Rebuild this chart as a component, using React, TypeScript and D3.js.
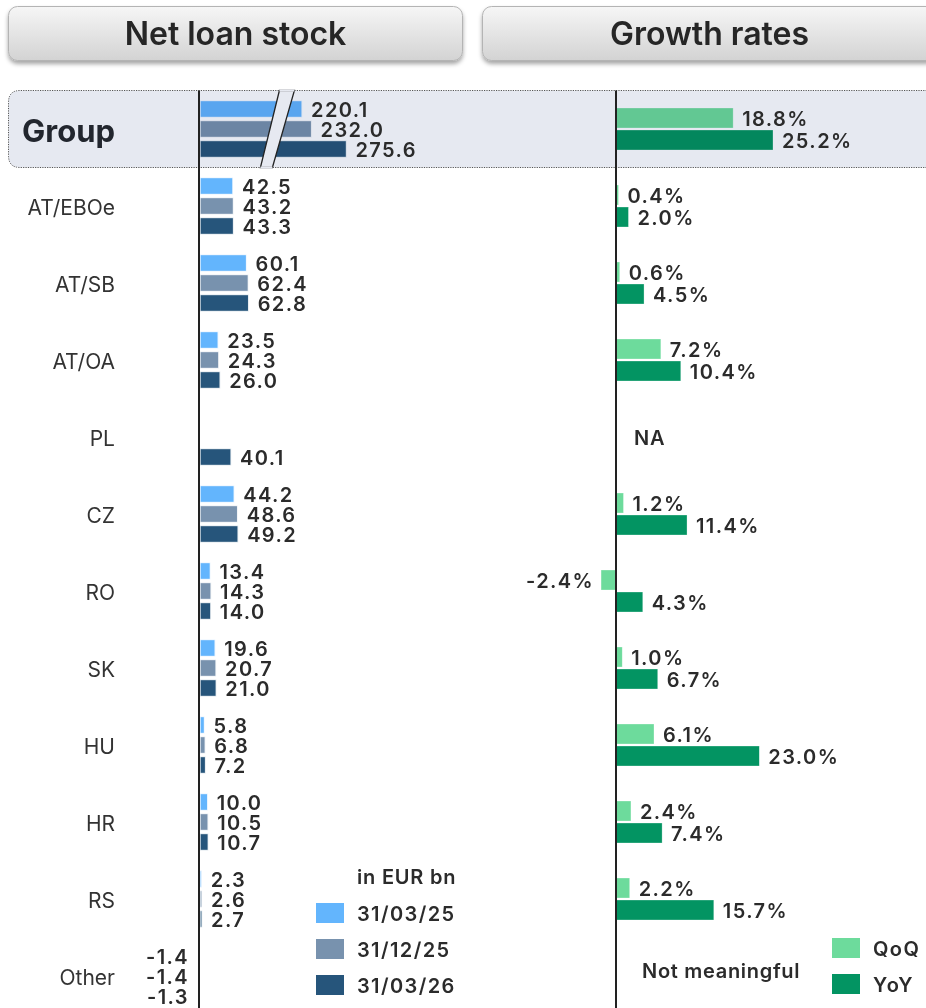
import React from 'react';
import * as d3 from 'd3';

const categories = ['Group', 'AT/EBOe', 'AT/SB', 'AT/OA', 'PL', 'CZ', 'RO', 'SK', 'HU', 'HR', 'RS', 'Other'];

// net loan stock, EUR bn
const stockMar25 = [220.1, 42.5, 60.1, 23.5, null, 44.2, 13.4, 19.6, 5.8, 10.0, 2.3, -1.4];
const stockDec25 = [232.0, 43.2, 62.4, 24.3, null, 48.6, 14.3, 20.7, 6.8, 10.5, 2.6, -1.4];
const stockMar26 = [275.6, 43.3, 62.8, 26.0, 40.1, 49.2, 14.0, 21.0, 7.2, 10.7, 2.7, -1.3];

// growth rates, %
const growthQoQ = [18.8, 0.4, 0.6, 7.2, null, 1.2, -2.4, 1.0, 6.1, 2.4, 2.2, null];
const growthYoY = [25.2, 2.0, 4.5, 10.4, null, 11.4, 4.3, 6.7, 23.0, 7.4, 15.7, null];
const growthNotes = ['', '', '', '', 'NA', '', '', '', '', '', '', 'Not meaningful'];

const stockLabels = ['31/03/25', '31/12/25', '31/03/26'];
const growthLabels = ['QoQ', 'YoY'];
const unitLabel = 'in EUR bn';

const W = 926;
const H = 1008;
const FONT = 'Inter, "Noto Sans", sans-serif';
const TXT = '#2b2b2b';

const stockColors = ['#63b5fd', '#7892ae', '#26557b'];
const growthColors = ['#6ddb9c', '#039462'];

export default function App() {
  const stockSeries = [stockMar25, stockDec25, stockMar26];
  const growthSeries = [growthQoQ, growthYoY];

  const y = d3.scaleBand<string>().domain(categories).range([90.5, 90.5 + 77 * categories.length]);
  const ySub = d3.scalePoint<string>().domain(stockLabels).range([-20, 20]);
  const yGrowth = d3.scalePoint<string>().domain(growthLabels).range([-11, 11]);

  const axisL = 200;
  const axisR = 616;
  const xStock = d3.scaleLinear().domain([0, 60]).range([axisL, axisL + 46.5]);
  // broken axis for Group
  const xGroup = d3.scaleLinear().domain([92.5, 275.6]).range([axisL, axisL + 146.5]);
  const xGrowth = d3.scaleLinear().domain([0, 25.2]).range([axisR, axisR + 157]);

  const fmt = (v: number) => d3.format('.1f')(v).replace('\u2212', '-');
  const cy = (c: string) => (y(c) as number) + y.bandwidth() / 2;

  const bandTop = y('Group') as number;
  const bandBot = bandTop + y.bandwidth();
  const brk = xGroup(188);

  const valueText = {
    fontFamily: FONT,
    fontSize: 20,
    fontWeight: 600,
    fill: TXT,
    letterSpacing: '1.4px',
  } as const;

  const buttons = [
    { label: 'Net loan stock', x: 8.5 },
    { label: 'Growth rates', x: 482.5 },
  ];

  return (
    <svg width={W} height={H} style={{ position: 'absolute', left: 0, top: 0, display: 'block', background: '#fff' }}>
      <defs>
        <linearGradient id="btn" x1="0" y1="0" x2="0" y2="1">
          <stop offset="0" stopColor="#f6f6f6" />
          <stop offset="1" stopColor="#d3d3d3" />
        </linearGradient>
        <filter id="shadow" x="-5%" y="-20%" width="110%" height="160%">
          <feDropShadow dx="0" dy="3" stdDeviation="2.2" floodColor="#000" floodOpacity="0.35" />
        </filter>
      </defs>

      {buttons.map((b) => (
        <g key={b.label}>
          <rect x={b.x} y={6.5} width={454} height={54} rx={9} fill="url(#btn)" stroke="#b4b4b4" filter="url(#shadow)" />
          <text x={b.x + 227} y={33} textAnchor="middle" dominantBaseline="central"
            style={{ fontFamily: FONT, fontSize: 32, fontWeight: 600, fill: '#262626' }}>{b.label}</text>
        </g>
      ))}

      {/* group highlight band */}
      <path
        d={`M${W + 20},${bandTop} H20 Q8.5,${bandTop} 8.5,${bandTop + 12} V${bandBot - 12} Q8.5,${bandBot} 20,${bandBot} H${W + 20}`}
        fill="#e6e9f1" stroke="#555" strokeWidth={1} strokeDasharray="1.2 1.2" />

      {/* category labels */}
      {categories.map((c, i) => (
        <text key={c} x={115} y={cy(c) + 1} textAnchor="end" dominantBaseline="central"
          style={{ fontFamily: FONT, fontSize: i === 0 ? 31 : 21, fontWeight: i === 0 ? 700 : 400, fill: i === 0 ? '#22262e' : '#333' }}>
          {c}
        </text>
      ))}

      {/* stock bars */}
      {stockSeries.map((arr, s) =>
        arr.map((v, i) => {
          if (v == null) return null;
          const c = categories[i];
          const sx = i === 0 ? xGroup : xStock;
          const x0 = sx(i === 0 ? 92.5 : 0);
          const x1 = sx(v);
          const yc = cy(c) + (ySub(stockLabels[s]) as number);
          const neg = v < 0;
          return (
            <g key={`s${s}-${i}`}>
              <rect x={Math.min(x0, x1)} y={yc - 8.5} width={Math.abs(x1 - x0)} height={17}
                fill={stockColors[s]} stroke="#fff" strokeOpacity={0.85} strokeWidth={1.4}
                style={{ mixBlendMode: 'multiply' }} />
              <text x={neg ? axisL - 11 : Math.max(x1, axisL + 1) + 9} y={yc + 1} textAnchor={neg ? 'end' : 'start'}
                dominantBaseline="central" style={valueText}>{fmt(v)}</text>
            </g>
          );
        })
      )}

      {/* axis break marker */}
      <polygon
        points={`${brk + 3},${bandTop} ${brk + 18},${bandTop} ${brk - 4},${bandBot} ${brk - 16},${bandBot}`}
        fill="#e6e9f1" stroke="#222" strokeWidth={1.3} />
      <line x1={brk - 16} x2={brk - 4} y1={bandBot} y2={bandBot} stroke="#e6e9f1" strokeWidth={2} />
      <line x1={brk + 3} x2={brk + 18} y1={bandTop} y2={bandTop} stroke="#e6e9f1" strokeWidth={2} />

      {/* growth bars */}
      {growthSeries.map((arr, s) =>
        arr.map((v, i) => {
          if (v == null) return null;
          const c = categories[i];
          const x0 = xGrowth(0);
          const x1 = xGrowth(v);
          const yc = cy(c) + (yGrowth(growthLabels[s]) as number);
          const neg = v < 0;
          return (
            <g key={`g${s}-${i}`}>
              <rect x={Math.min(x0, x1)} y={yc - 10} width={Math.max(1.5, Math.abs(x1 - x0))} height={20}
                fill={growthColors[s]} stroke="#fff" strokeOpacity={0.5} strokeWidth={0.6}
                style={{ mixBlendMode: 'multiply' }} />
              <text x={neg ? x1 - 7 : x1 + 9} y={yc + 1} textAnchor={neg ? 'end' : 'start'}
                dominantBaseline="central" style={valueText}>{fmt(v) + '%'}</text>
            </g>
          );
        })
      )}

      {growthNotes.map((n, i) =>
        n ? (
          <text key={`n${i}`} x={axisR + (n === 'NA' ? 18 : 26)} y={cy(categories[i]) + (n === 'NA' ? 1 : -5)}
            dominantBaseline="central"
            style={{ fontFamily: FONT, fontSize: 20, fontWeight: 600, fill: TXT, letterSpacing: '0.7px' }}>{n}</text>
        ) : null
      )}

      {/* axes */}
      <line x1={axisL - 1} x2={axisL - 1} y1={bandTop} y2={H} stroke="#222" strokeWidth={2} />
      <line x1={axisR} x2={axisR} y1={bandTop} y2={H} stroke="#222" strokeWidth={2} />

      {/* stock legend */}
      <text x={357} y={877} dominantBaseline="central"
        style={{ fontFamily: FONT, fontSize: 20, fontWeight: 600, fill: TXT, letterSpacing: '0.8px' }}>{unitLabel}</text>
      {stockLabels.map((l, s) => (
        <g key={l} transform={`translate(316,${913 + s * 36})`}>
          <rect x={0} y={-10} width={28} height={20} fill={stockColors[s]} />
          <text x={41} y={1} dominantBaseline="central" style={valueText}>{l}</text>
        </g>
      ))}

      {/* growth legend */}
      {growthLabels.map((l, s) => (
        <g key={l} transform={`translate(832,${948 + s * 36})`}>
          <rect x={0} y={-10} width={28} height={20} fill={growthColors[s]} />
          <text x={41} y={1} dominantBaseline="central" style={valueText}>{l}</text>
        </g>
      ))}
    </svg>
  );
}
